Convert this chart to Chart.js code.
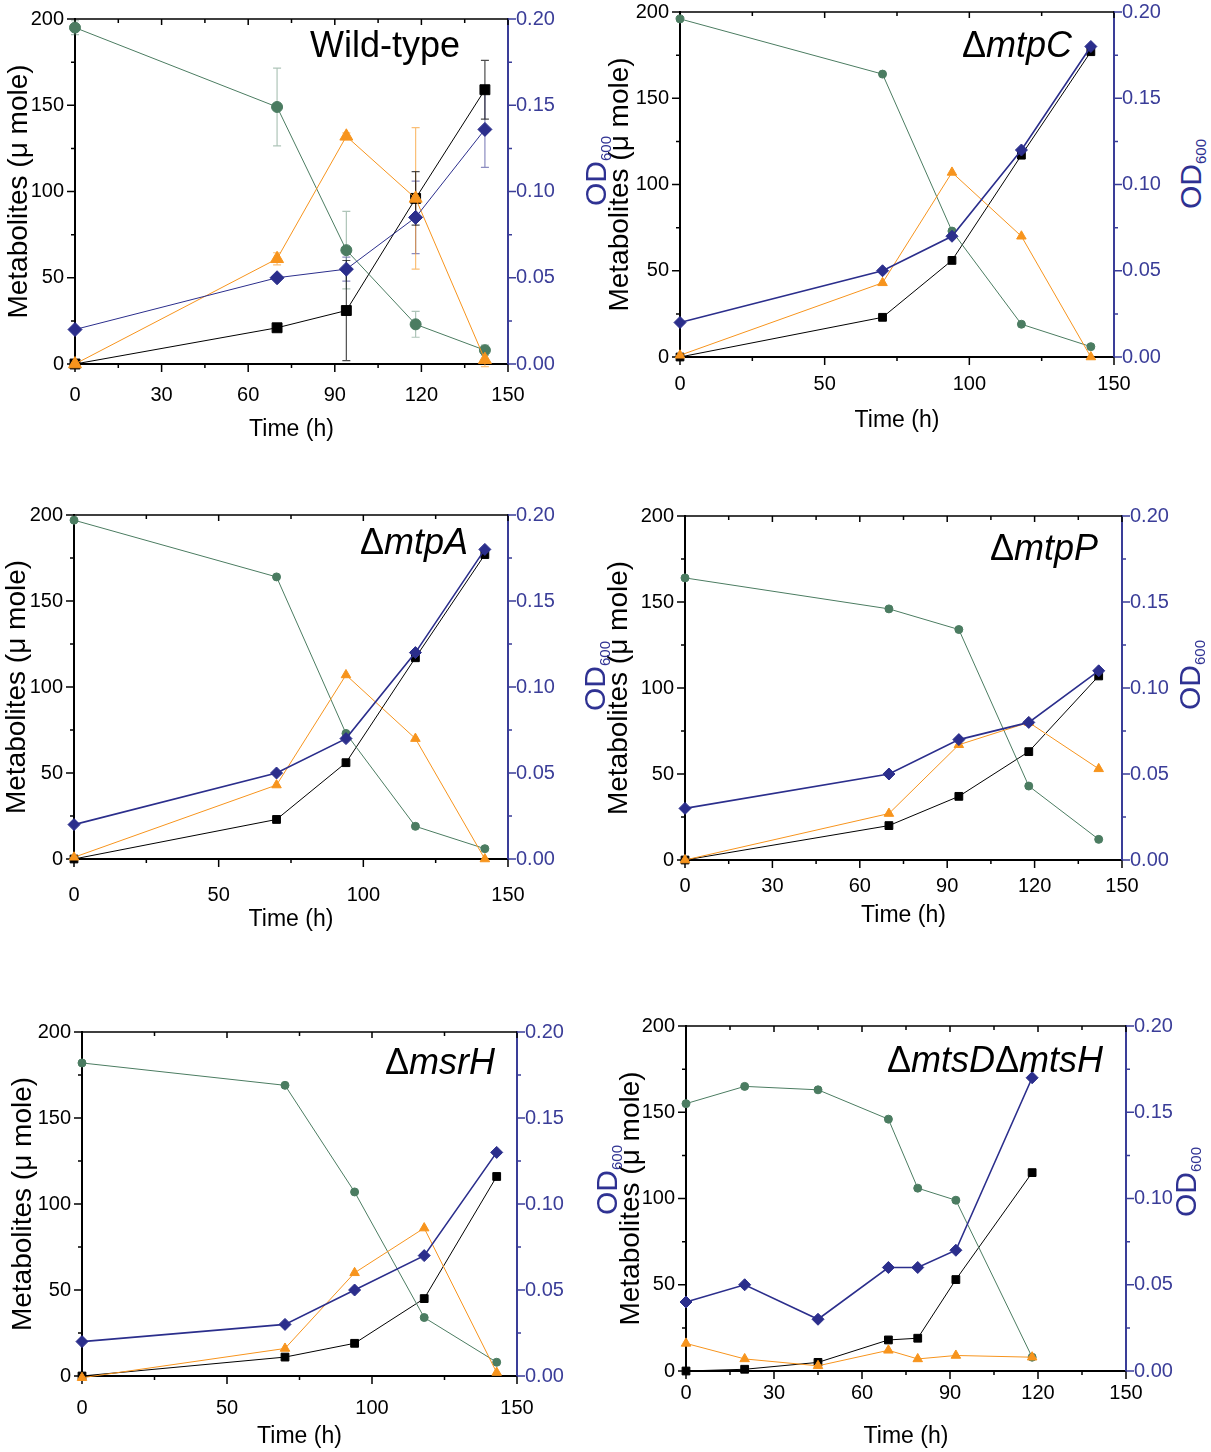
<!DOCTYPE html>
<html>
<head>
<meta charset="utf-8">
<script src="https://cdn.jsdelivr.net/npm/chart.js@4.4.0/dist/chart.umd.min.js"></script>
<style>
body{margin:0;background:#fff;}
#page{position:relative;width:1211px;height:1452px;overflow:hidden;background:#fff;}
#page canvas{position:absolute;}
.ttl{position:absolute;width:400px;text-align:right;white-space:nowrap;line-height:1;
  font-family:"Liberation Sans",Arial,sans-serif;font-size:36px;color:#000;}
.od{position:absolute;white-space:nowrap;line-height:1;color:#2e3192;
  font-family:"Liberation Sans",Arial,sans-serif;font-size:30px;
  transform:translate(-50%,-50%) rotate(-90deg);}
.od sub{font-size:15px;vertical-align:-5px;}
</style>
</head>
<body>
<div id="page"></div>
<script>
// ---- data (time in h, metabolites in µmole, OD600) ----
const wtTime = [0, 70, 94, 118, 142];
const wtGreen = [195, 149, 66, 23, 8];
const wtGreenErr = [4, 22.5, 22.5, 7.5, 3];
const wtOrange = [0, 61, 132, 96, 2.5];
const wtOrangeErr = [0, 3.5, 2, 41, 4];
const wtBlack = [0, 21, 31, 96, 159];
const wtBlackErr = [0, 0, 29, 15.5, 17];
const wtOD = [0.02, 0.05, 0.055, 0.085, 0.136];
const wtODErr = [0, 0, 0.007, 0.021, 0.022];

const mtpCTime = [0, 70, 94, 118, 142];
const mtpCGreen = [196, 164, 73, 19, 6];
const mtpCOrange = [1, 43, 107, 70, 0];
const mtpCBlack = [0, 23, 56, 117, 177];
const mtpCOD = [0.02, 0.05, 0.07, 0.12, 0.18];

const mtpATime = [0, 70, 94, 118, 142];
const mtpAGreen = [197, 164, 73, 19, 6];
const mtpAOrange = [1, 43, 107, 70, 0];
const mtpABlack = [0, 23, 56, 117, 177];
const mtpAOD = [0.02, 0.05, 0.07, 0.12, 0.18];

const mtpPTime = [0, 70, 94, 118, 142];
const mtpPGreen = [164, 146, 134, 43, 12];
const mtpPOrange = [0, 27, 67, 80, 53];
const mtpPBlack = [0, 20, 37, 63, 107];
const mtpPOD = [0.03, 0.05, 0.07, 0.08, 0.11];

const msrHTime = [0, 70, 94, 118, 143];
const msrHGreen = [182, 169, 107, 34, 8];
const msrHOrange = [-1, 16, 60, 86, 2];
const msrHBlack = [0, 11, 19, 45, 116];
const msrHOD = [0.02, 0.03, 0.05, 0.07, 0.13];

const mtsTime = [0, 20, 45, 69, 79, 92, 118];
const mtsGreen = [155, 165, 163, 146, 106, 99, 8];
const mtsOrange = [16, 7, 3, 12, 7, 9, 8];
const mtsBlack = [0, 1, 5, 18, 19, 53, 115];
const mtsOD = [0.04, 0.05, 0.03, 0.06, 0.06, 0.07, 0.17];

const xTicks30 = [0, 30, 60, 90, 120, 150];
const xTicks50 = [0, 50, 100, 150];

// ---- styles ----
const sans = '"Liberation Sans", Arial, sans-serif';
const narrow = '"Liberation Sans Narrow", "Liberation Sans", Arial, sans-serif';
const green = '#4b7c61', orange = '#f7941d', black = '#000000', blue = '#2b2e8c', axisBlue = '#3a3d98';

const page = document.getElementById('page');

// frame line on top plus major / minor tick marks on all sides
const frameTicks = {
  id: 'frameTicks',
  beforeDatasetsDraw(chart, args, opts) {
    const {ctx, chartArea: a, scales} = chart;
    const x = scales.x, y = scales.y, y2 = scales.y2;
    function seg(x1, y1, x2, y2) { ctx.moveTo(x1, y1); ctx.lineTo(x2, y2); }
    ctx.save();
    ctx.lineWidth = 1.5;
    ctx.strokeStyle = '#000';
    ctx.beginPath();
    seg(a.left, a.top, a.right, a.top);
    const st = opts.xStep;
    for (let i = 0; i * st / 2 <= 150 + 1e-9; i++) {
      const px = x.getPixelForValue(i * st / 2);
      const major = i % 2 === 0;
      seg(px, a.bottom, px, a.bottom + (major ? 8 : 4));
      seg(px, a.top, px, a.top + (major ? 6 : 4));
    }
    for (let i = 0; i <= 8; i++) {
      const py = y.getPixelForValue(i * 25);
      seg(a.left - (i % 2 === 0 ? 8 : 4), py, a.left, py);
    }
    ctx.stroke();
    ctx.strokeStyle = axisBlue;
    ctx.beginPath();
    for (let i = 0; i <= 8; i++) {
      const py = y2.getPixelForValue(i * 0.025);
      seg(a.right, py, a.right + (i % 2 === 0 ? 8 : 4), py);
    }
    ctx.stroke();
    ctx.restore();
  }
};

// vertical error bars from a dataset's "errors" list
const errorBars = {
  id: 'errorBars',
  beforeDatasetsDraw(chart) {
    const {ctx} = chart;
    chart.data.datasets.forEach(ds => {
      if (!ds.errors) return;
      const ys = chart.scales[ds.yAxisID];
      ctx.save();
      ctx.strokeStyle = ds.errorColor;
      ctx.lineWidth = 1.2;
      ctx.beginPath();
      ds.data.forEach((p, i) => {
        const e = ds.errors[i];
        if (!e) return;
        const px = chart.scales.x.getPixelForValue(p.x);
        const t = ys.getPixelForValue(p.y + e), b = ys.getPixelForValue(p.y - e);
        ctx.moveTo(px, t); ctx.lineTo(px, b);
        ctx.moveTo(px - 4, t); ctx.lineTo(px + 4, t);
        ctx.moveTo(px - 4, b); ctx.lineTo(px + 4, b);
      });
      ctx.stroke();
      ctx.restore();
    });
  }
};

function series(t, v, color, style, r, lw, axis, err, errColor) {
  return {
    data: t.map((x, i) => ({x: x, y: v[i]})),
    showLine: true,
    borderColor: color,
    backgroundColor: color,
    borderWidth: lw,
    pointStyle: style,
    pointRadius: r,
    pointBorderWidth: 1,
    yAxisID: axis,
    clip: false,
    errors: err,
    errorColor: errColor
  };
}

function makePanel(p) {
  const lw = p.lw, rw = 60, top = 20, hb = 90;
  const W = p.R - p.L + lw + rw, H = p.B - p.T + top + hb;
  const cv = document.createElement('canvas');
  cv.width = W; cv.height = H;
  cv.style.width = W + 'px'; cv.style.height = H + 'px';
  cv.style.left = (p.L - lw) + 'px'; cv.style.top = (p.T - top) + 'px';
  page.appendChild(cv);

  const big = p.big;
  const ds = [
    series(p.time, p.od, blue, 'rectRot', big ? 7 : 6, big ? 1 : 1.6, 'y2', p.odErr, 'rgba(43,46,140,0.55)'),
    series(p.time, p.orange, orange, 'triangle', big ? 7.5 : 5.5, 1, 'y', p.orangeErr, 'rgba(247,148,29,0.6)'),
    series(p.time, p.green, green, 'circle', big ? 5.5 : 4, 1, 'y', p.greenErr, 'rgba(75,124,97,0.45)'),
    series(p.time, p.black, black, 'rect', big ? 7 : 5.5, 1, 'y', p.blackErr, 'rgba(0,0,0,0.7)')
  ];

  new Chart(cv, {
    type: 'scatter',
    data: {datasets: ds},
    plugins: [frameTicks, errorBars],
    options: {
      responsive: false,
      animation: false,
      devicePixelRatio: 1,
      layout: {padding: {top: top, left: 0, right: 0, bottom: 0}},
      plugins: {
        legend: {display: false},
        tooltip: {enabled: false},
        frameTicks: {xStep: p.xTicks[1]}
      },
      scales: {
        x: {
          type: 'linear', min: 0, max: 150,
          afterBuildTicks: s => { s.ticks = p.xTicks.map(v => ({value: v})); },
          ticks: {padding: p.xPad, color: '#000', font: {family: p.xFont, size: 20}},
          grid: {display: false, drawTicks: false},
          border: {display: true, color: '#000', width: 2},
          title: {display: true, text: 'Time (h)', color: '#000',
            font: {family: sans, size: 23, lineHeight: 1}, padding: {top: 0, bottom: p.titlePad}},
          afterFit: s => { s.height = hb; }
        },
        y: {
          position: 'left', min: 0, max: 200,
          ticks: {stepSize: 50, padding: 11, color: '#000', font: {family: p.yFont, size: 20}},
          grid: {display: false, drawTicks: false},
          border: {display: true, color: '#000', width: 2},
          title: {display: true, text: 'Metabolites (\u03bc mole)', color: '#000',
            font: {family: sans, size: 28, lineHeight: 1}, padding: {top: 6, bottom: 0}},
          afterFit: s => { s.width = lw; }
        },
        y2: {
          position: 'right', min: 0, max: 0.2,
          ticks: {stepSize: 0.05, padding: 8, color: axisBlue, font: {family: sans, size: 20},
            callback: v => v.toFixed(2)},
          grid: {display: false, drawTicks: false},
          border: {display: true, color: axisBlue, width: 2},
          afterFit: s => { s.width = rw; }
        }
      }
    }
  });
}

const panels = [
  {time: wtTime, green: wtGreen, orange: wtOrange, black: wtBlack, od: wtOD,
   greenErr: wtGreenErr, orangeErr: wtOrangeErr, blackErr: wtBlackErr, odErr: wtODErr,
   big: true, L: 75, R: 508, T: 16, B: 364, lw: 76, xTicks: xTicks30, xPad: 19, titlePad: 12.5,
   xFont: narrow, yFont: narrow},
  {time: mtpCTime, green: mtpCGreen, orange: mtpCOrange, black: mtpCBlack, od: mtpCOD,
   L: 680, R: 1114, T: 9, B: 357, lw: 80, xTicks: xTicks50, xPad: 15, titlePad: 14.5,
   xFont: sans, yFont: narrow},
  {time: mtpATime, green: mtpAGreen, orange: mtpAOrange, black: mtpABlack, od: mtpAOD,
   L: 74, R: 508, T: 512, B: 859, lw: 77, xTicks: xTicks50, xPad: 24, titlePad: 17.5,
   xFont: sans, yFont: narrow},
  {time: mtpPTime, green: mtpPGreen, orange: mtpPOrange, black: mtpPBlack, od: mtpPOD,
   L: 685, R: 1122, T: 513, B: 860, lw: 86, xTicks: xTicks30, xPad: 14, titlePad: 22.5,
   xFont: narrow, yFont: narrow},
  {time: msrHTime, green: msrHGreen, orange: msrHOrange, black: msrHBlack, od: msrHOD,
   L: 82, R: 517, T: 1029, B: 1376, lw: 79, xTicks: xTicks50, xPad: 20, titlePad: 17.5,
   xFont: sans, yFont: sans},
  {time: mtsTime, green: mtsGreen, orange: mtsOrange, black: mtsBlack, od: mtsOD,
   L: 686, R: 1126, T: 1023, B: 1371, lw: 75, xTicks: xTicks30, xPad: 10, titlePad: 12.5,
   xFont: narrow, yFont: narrow}
];
panels.forEach(makePanel);

// panel names (strain labels)
const names = [
  ['Wild-type', 460, 27], ['\u0394<i>mtpC</i>', 1072, 27], ['\u0394<i>mtpA</i>', 468, 524],
  ['\u0394<i>mtpP</i>', 1098, 530], ['\u0394<i>msrH</i>', 495, 1044],
  ['\u0394<i>mtsD</i>\u0394<i>mtsH</i>', 1103, 1042]
];
names.forEach(n => {
  const d = document.createElement('div');
  d.className = 'ttl';
  d.innerHTML = n[0];
  d.style.left = (n[1] - 400) + 'px';
  d.style.top = n[2] + 'px';
  page.appendChild(d);
});

// right-axis titles OD600
const odLabels = [[597, 171], [1192, 174], [596, 676], [1191, 675], [608, 1180], [1187, 1182]];
odLabels.forEach(c => {
  const d = document.createElement('div');
  d.className = 'od';
  d.innerHTML = 'OD<sub>600</sub>';
  d.style.left = c[0] + 'px';
  d.style.top = c[1] + 'px';
  page.appendChild(d);
});
</script>
</body>
</html>
